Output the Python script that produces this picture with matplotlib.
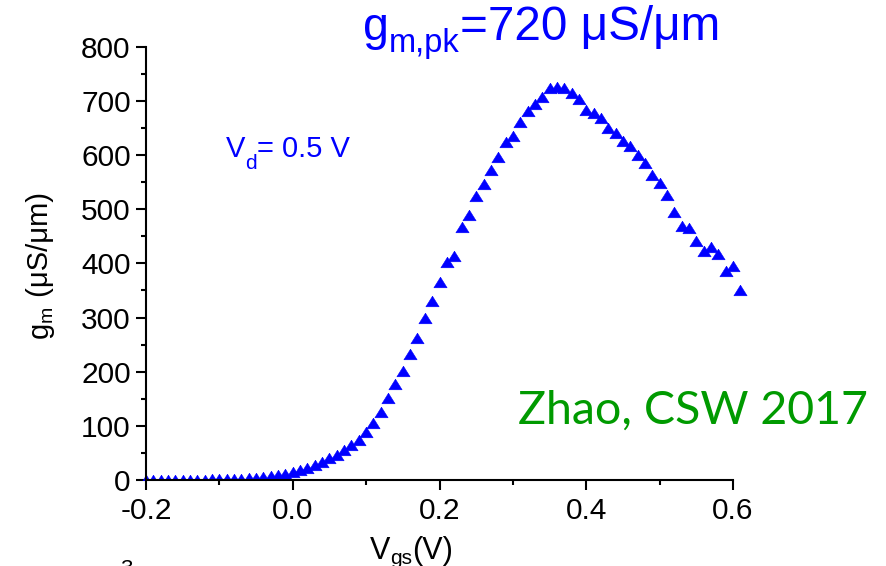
import numpy as np
import matplotlib
matplotlib.use("Agg")
import matplotlib.pyplot as plt
from matplotlib.patches import Rectangle
from matplotlib.ticker import MultipleLocator

plt.rcParams['font.family'] = ['Liberation Sans', 'DejaVu Sans']

# ---- data ----
vgs = [
    -0.20, -0.19, -0.18, -0.17, -0.16, -0.15, -0.14, -0.13, -0.12, -0.11,
    -0.10, -0.09, -0.08, -0.07, -0.06, -0.05, -0.04, -0.03, -0.02, -0.01,
    0.00, 0.01, 0.02, 0.03, 0.04, 0.05, 0.06, 0.07, 0.08, 0.09,
    0.10, 0.11, 0.12, 0.13, 0.14, 0.15, 0.16, 0.17, 0.18, 0.19,
    0.20, 0.21, 0.22, 0.23, 0.24, 0.25, 0.26, 0.27, 0.28, 0.29,
    0.30, 0.31, 0.32, 0.33, 0.34, 0.35, 0.36, 0.37, 0.38, 0.39,
    0.40, 0.41, 0.42, 0.43, 0.44, 0.45, 0.46, 0.47, 0.48, 0.49,
    0.50, 0.51, 0.52, 0.53, 0.54, 0.55, 0.56, 0.57, 0.58, 0.59,
    0.60, 0.61,
]
gm = [
    0.5, 0.5, 0.5, 0.5, 0.5, 0.6, 0.7, 0.8, 0.9, 1.0,
    1.2, 1.5, 2, 2.5, 3, 4, 5, 7, 9, 12,
    15, 19, 23, 28, 34, 40, 47, 55, 64, 74,
    88, 105, 125, 152, 177, 202, 232, 263, 300, 330,
    366, 403, 413, 467, 489, 525, 546, 573, 597, 624,
    636, 661, 682, 694, 708, 723, 726, 724, 715, 703,
    684, 677, 668, 649, 641, 626, 617, 600, 585, 563,
    548, 527, 495, 469, 466, 442, 423, 430, 418, 386,
    395, 351,
]
x_ticks = [-0.2, 0.0, 0.2, 0.4, 0.6]
x_ticklabels = ['-0.2', '0.0', '0.2', '0.4', '0.6']
y_ticks = [0, 100, 200, 300, 400, 500, 600, 700, 800]

W, H = 887, 566
fig = plt.figure(figsize=(W / 100, H / 100), dpi=100)
renderer = fig.canvas.get_renderer()


def fx(px):
    return px / W


def fy(py):
    return 1 - py / H


def rich(parts, x, y, color='black', rotation=0):
    """parts: list of (text, fontsize, drop_px). x, y: start of baseline in px."""
    pos = 0.0
    for text, size, drop in parts:
        if rotation == 0:
            px, py = x + pos, y + drop
        else:
            px, py = x + drop, y - pos
        t = fig.text(fx(px), fy(py), text, fontsize=size, color=color,
                     ha='left', va='baseline', rotation=rotation,
                     rotation_mode='anchor')
        bb = t.get_window_extent(renderer)
        pos += bb.width if rotation == 0 else bb.height


left, right, top, bottom = 146, 733, 46.7, 480
ax = fig.add_axes([fx(left), fy(bottom), fx(right - left), (bottom - top) / H])
ax.set_xlim(-0.2, 0.6)
ax.set_ylim(0, 800)

tri = [(0, 0.8), (-1, -0.8), (1, -0.8), (0, 0.8)]
line, = ax.plot(vgs, gm, linestyle='none', marker=tri, markersize=9.5,
                color='#0000ff', markeredgewidth=0.4, clip_on=True, zorder=3)
clip = Rectangle((-0.2, 0), 1.4, 1.3, transform=ax.transAxes)
line.set_clip_path(clip)

for s in ['top', 'right']:
    ax.spines[s].set_visible(False)
for s in ['left', 'bottom']:
    ax.spines[s].set_linewidth(1.5)
    ax.spines[s].set_zorder(4)

ax.set_xticks(x_ticks)
ax.set_xticklabels(x_ticklabels)
ax.set_yticks(y_ticks)
ax.xaxis.set_minor_locator(MultipleLocator(0.1))
ax.yaxis.set_minor_locator(MultipleLocator(50))
ax.tick_params(which='major', direction='out', length=7, width=1.5,
               labelsize=21.5, pad=4)
ax.tick_params(which='minor', direction='out', length=3.5, width=1.5)
ax.tick_params(axis='x', which='major', pad=5)

# axis labels
rich([('g', 21, 0), ('m', 14, 4), (' (μS/μm)', 21, 0)], 48, 338, rotation=90)
rich([('V', 22, 0), ('gs', 15, 5), ('(V)', 22, 0)], 370, 559)

# annotations
rich([('g', 33.5, 0), ('m,pk', 23.5, 12), ('=720 μS/μm', 34.3, 0)], 363, 40,
     color='#0000ff')
rich([('V', 21, 0), ('d', 15, 12), ('= 0.5 V', 21, 0)], 226, 157,
     color='#0000ff')
fig.text(fx(518), fy(424), 'Zhao, CSW 2017', ha='left', va='baseline',
         fontsize=33.5, color='#009a00', family=['Lato', 'DejaVu Sans'])
fig.text(fx(120), fy(559), '3', ha='left', va='top', fontsize=16,
         color='black')

fig.savefig('out.png', dpi=100)
